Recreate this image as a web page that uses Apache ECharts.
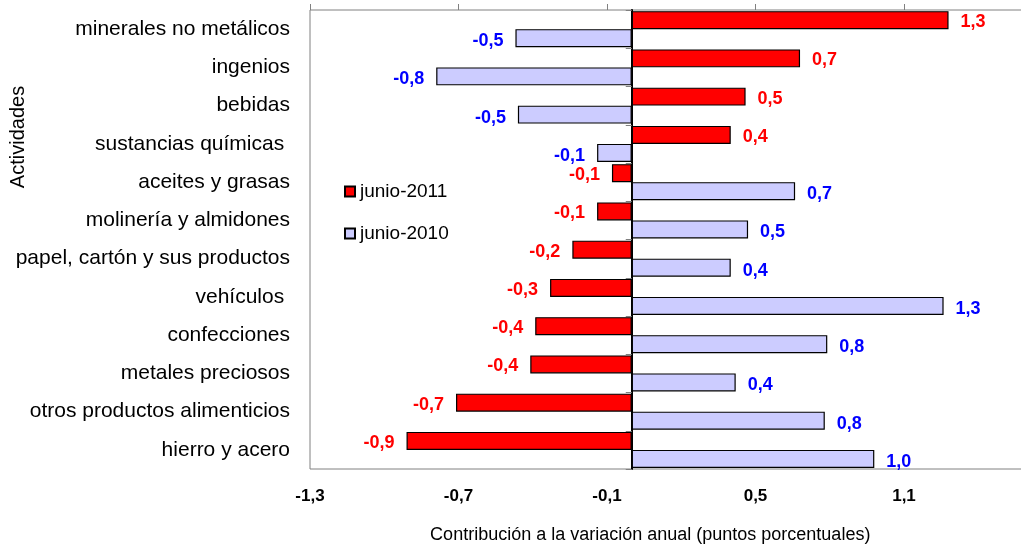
<!DOCTYPE html>
<html>
<head>
<meta charset="utf-8">
<script src="https://cdn.jsdelivr.net/npm/echarts@6/dist/echarts.min.js"></script>
<style>html,body{margin:0;padding:0;background:#fff}#c{width:1021px;height:545px}</style>
</head>
<body>
<div id="c"></div>
<script>
const categories = ["minerales no metálicos","ingenios","bebidas","sustancias químicas ","aceites y grasas","molinería y almidones","papel, cartón y sus productos","vehículos ","confecciones","metales preciosos","otros productos alimenticios","hierro y acero"];
const seriesNames = ["junio-2011","junio-2010"];
const values2011 = [1.28, 0.68, 0.46, 0.40, -0.08, -0.14, -0.24, -0.33, -0.39, -0.41, -0.71, -0.91];
const values2010 = [-0.47, -0.79, -0.46, -0.14, 0.66, 0.47, 0.40, 1.26, 0.79, 0.42, 0.78, 0.98];
const xMin = -1.3, xMax = 1.7, xInterval = 0.6;
const yTitle = "Actividades";
const xTitle = "Contribución a la variación anual (puntos porcentuales)";

const FONT = "'Liberation Sans', Arial, sans-serif";
const fmt = v => v.toFixed(1).replace('.', ',');
const mk = vals => vals.map(v => ({value: v, label: {position: v < 0 ? 'left' : 'right'}}));

const chart = echarts.init(document.getElementById('c'));
chart.setOption({
  animation: false,
  backgroundColor: '#fff',
  textStyle: {fontFamily: FONT},
  grid: {left: 310, top: 10, width: 742.5, height: 459, show: true, borderColor: '#808080', borderWidth: 1, outerBoundsMode: 'none', containLabel: false},
  legend: {
    orient: 'vertical', left: 344, top: 182, padding: 0, itemGap: 23,
    itemWidth: 10, itemHeight: 10, icon: 'rect',
    textStyle: {fontSize: 19, color: '#000', fontFamily: FONT},
    data: seriesNames
  },
  graphic: [{
    type: 'text', x: 8, y: 137, rotation: Math.PI / 2,
    style: {text: yTitle, fontSize: 20, fontFamily: FONT, fill: '#000', align: 'center', verticalAlign: 'top'}
  }],
  xAxis: [{
    type: 'value', min: xMin, max: xMax, interval: xInterval, position: 'bottom',
    axisLine: {show: false}, axisTick: {show: false}, splitLine: {show: false},
    axisLabel: {formatter: fmt, fontSize: 17, fontWeight: 'bold', color: '#000', margin: 19, fontFamily: FONT},
    name: xTitle, nameLocation: 'middle', nameGap: 57,
    nameTextStyle: {fontSize: 18, color: '#000', fontFamily: FONT, padding: [0, 62, 0, 0]}
  }, {
    type: 'value', min: xMin, max: xMax, interval: xInterval, position: 'top',
    axisLine: {show: false}, splitLine: {show: false}, axisLabel: {show: false},
    axisTick: {show: true, length: 6, lineStyle: {color: '#808080'}}
  }],
  yAxis: [{
    type: 'category', data: categories, inverse: true, position: 'left',
    axisLine: {show: false, onZero: false}, axisTick: {show: false}, splitLine: {show: false},
    axisLabel: {fontSize: 21, color: '#000', margin: 20, fontFamily: FONT}
  }, {
    type: 'category', data: categories, inverse: true, position: 'left',
    axisLine: {show: true, onZero: true, onZeroAxisIndex: 0, lineStyle: {color: '#000', width: 2}},
    axisTick: {show: true, length: 6, lineStyle: {color: '#808080'}},
    axisLabel: {show: false}, splitLine: {show: false}
  }],
  series: [{
    name: seriesNames[0], type: 'bar', xAxisIndex: 0, yAxisIndex: 0,
    barWidth: 18, barGap: '0%',
    itemStyle: {color: '#FF0000', borderColor: '#000', borderWidth: 1.2},
    label: {show: true, formatter: p => fmt(p.value), color: '#FF0000', fontWeight: 'bold', fontSize: 18, distance: 12, offset: [0, 2], fontFamily: FONT},
    data: mk(values2011)
  }, {
    name: seriesNames[1], type: 'bar', xAxisIndex: 0, yAxisIndex: 0,
    barWidth: 18, barGap: '0%',
    itemStyle: {color: '#CCCCFF', borderColor: '#000', borderWidth: 1.2},
    label: {show: true, formatter: p => fmt(p.value), color: '#0000FF', fontWeight: 'bold', fontSize: 18, distance: 12, offset: [0, 3], fontFamily: FONT},
    data: mk(values2010)
  }]
});
</script>
</body>
</html>
